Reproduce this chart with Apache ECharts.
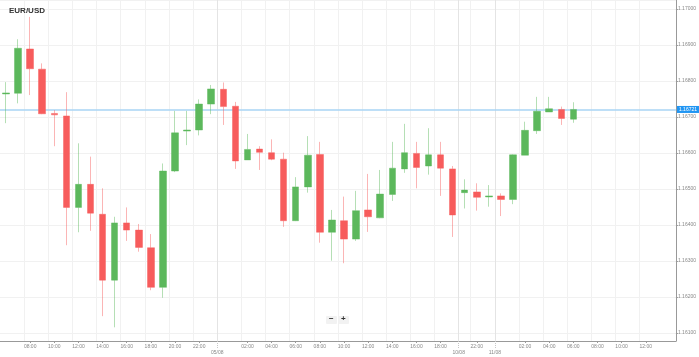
<!DOCTYPE html>
<html><head><meta charset="utf-8">
<script src="https://cdn.jsdelivr.net/npm/echarts@6/dist/echarts.min.js"></script>
<style>html,body{margin:0;padding:0;background:#fff}#c{width:699px;height:357px}</style>
</head><body><div id="c"></div>
<script>
const chartTitle = 'EUR/USD';
const times = [
  '06:00','07:00','08:00','09:00','10:00','11:00','12:00','13:00','14:00','15:00','16:00','17:00','18:00','19:00','20:00','21:00','22:00','23:00',
  '00:00','01:00','02:00','03:00','04:00','05:00','06:00','07:00','08:00','09:00','10:00','11:00','12:00','13:00','14:00','15:00','16:00','17:00','18:00','19:00',
  '21:00','22:00','23:00',
  '00:00','01:00','02:00','03:00','04:00','05:00','06:00','07:00','08:00','09:00','10:00','11:00','12:00','13:00','14:00'
];
const opens  = [1.16764,1.16766,1.16889,1.16833,1.16710,1.16703,1.16449,1.16513,1.16430,1.16247,1.16406,1.16386,1.16337,1.16227,1.16550,1.16661,1.16664,1.16736,1.16777,1.16730,1.16581,1.16611,1.16601,1.16583,1.16412,1.16506,1.16596,1.16380,1.16412,1.16361,1.16442,1.16420,1.16485,1.16556,1.16599,1.16564,1.16595,1.16556,1.16490,1.16492,1.16478,1.16481,1.16471,1.16594,1.16662,1.16714,1.16721,1.16694];
const closes = [1.16767,1.16891,1.16834,1.16709,1.16706,1.16449,1.16513,1.16433,1.16247,1.16406,1.16386,1.16338,1.16227,1.16550,1.16656,1.16664,1.16736,1.16778,1.16729,1.16578,1.16610,1.16602,1.16583,1.16412,1.16506,1.16594,1.16380,1.16414,1.16361,1.16440,1.16423,1.16486,1.16558,1.16601,1.16560,1.16595,1.16558,1.16428,1.16497,1.16477,1.16481,1.16471,1.16595,1.16663,1.16716,1.16723,1.16696,1.16721];
const lows   = [1.16683,1.16738,1.16761,1.16708,1.16619,1.16344,1.16380,1.16384,1.16147,1.16116,1.16356,1.16326,1.16219,1.16198,1.16547,1.16622,1.16649,1.16708,1.16678,1.16556,1.16581,1.16553,1.16580,1.16395,1.16411,1.16490,1.16351,1.16301,1.16294,1.16356,1.16381,1.16419,1.16467,1.16545,1.16502,1.16540,1.16481,1.16367,1.16446,1.16440,1.16451,1.16425,1.16458,1.16594,1.16653,1.16714,1.16678,1.16684];
const highs  = [1.16797,1.16916,1.16978,1.16849,1.16719,1.16769,1.16627,1.16590,1.16502,1.16423,1.16449,1.16403,1.16375,1.16571,1.16717,1.16717,1.16749,1.16789,1.16796,1.16742,1.16653,1.16619,1.16638,1.16601,1.16533,1.16647,1.16631,1.16442,1.16479,1.16495,1.16542,1.16553,1.16631,1.16681,1.16631,1.16669,1.16631,1.16564,1.16527,1.16516,1.16511,1.16488,1.16596,1.16687,1.16756,1.16756,1.16729,1.16741];
const dayBreakIndex = [18, 38, 41];
const dayBreakLabel = ['05/08', '10/08', '11/08'];
const yMin = 1.16078, yMax = 1.17025;

const candles = opens.map((o, i) => [o, closes[i], lows[i], highs[i]]);
const lastPrice = closes[closes.length - 1];
const boundaries = [];
for (let i = 0; i <= times.length; i++) {
  const k = dayBreakIndex.indexOf(i);
  boundaries.push(k >= 0 ? dayBreakLabel[k] : 'b' + i);
}
const isBreak = (i) => dayBreakIndex.indexOf(i) >= 0;
const showHour = (i, v) => {
  const h = parseInt(v, 10);
  return h % 2 === 0 && h !== 0 && i > 0 && i < times.length - 1;
};
const FONT = 'Liberation Sans';
const chart = echarts.init(document.getElementById('c'), null, {renderer: 'canvas'});
chart.setOption({
  animation: false,
  backgroundColor: '#ffffff',
  textStyle: {fontFamily: FONT},
  title: {
    text: chartTitle, left: 9, top: 7, padding: 0,
    textStyle: {fontSize: 8, fontWeight: 'bold', color: '#333', fontFamily: FONT}
  },
  grid: {left: 0, right: 22, top: 0, bottom: 16, containLabel: false},
  xAxis: [{
    type: 'category', data: times, boundaryGap: true, position: 'bottom',
    axisLine: {onZero: false, lineStyle: {color: '#999', width: 1}},
    axisTick: {show: true, alignWithLabel: true, length: 2, interval: showHour, lineStyle: {color: '#999'}},
    axisLabel: {interval: showHour, fontSize: 5, color: '#888', margin: 3, fontFamily: FONT},
    splitLine: {show: true, interval: showHour, lineStyle: {color: '#f1f1f1', width: 1}}
  }, {
    type: 'category', data: boundaries, boundaryGap: false, position: 'bottom',
    axisLine: {show: false, onZero: false},
    axisTick: {show: true, length: 8, interval: (i) => isBreak(i), lineStyle: {color: '#c8c8c8', type: [1, 1]}},
    axisLabel: {interval: (i) => isBreak(i), fontSize: 5, color: '#888', margin: 9, fontFamily: FONT},
    splitLine: {show: true, interval: (i) => isBreak(i), lineStyle: {color: '#e4e4e4', width: 1}}
  }],
  yAxis: {
    type: 'value', position: 'right', scale: true, min: yMin, max: yMax, splitNumber: 9,
    axisLine: {show: true, onZero: false, lineStyle: {color: '#999', width: 1}},
    axisTick: {show: true, length: 2, lineStyle: {color: '#999'}},
    axisLabel: {fontSize: 5, color: '#888', margin: 2, showMinLabel: false, showMaxLabel: false,
      formatter: (v) => v.toFixed(5), fontFamily: FONT},
    splitLine: {show: true, lineStyle: {color: '#f1f1f1', width: 1}}
  },
  series: [{
    type: 'candlestick', xAxisIndex: 0, yAxisIndex: 0, data: candles, barWidth: 7,
    itemStyle: {
      color: '#5cb85c', color0: '#f75c5c',
      borderColor: 'rgba(92,184,92,0.45)', borderColor0: 'rgba(247,92,92,0.45)', borderWidth: 1
    },
    markLine: {
      silent: true, symbol: ['none', 'none'], animation: false, precision: 5, z: 1,
      data: [{yAxis: lastPrice}],
      lineStyle: {color: '#a9d5f5', width: 1.5, type: 'solid'},
      label: {position: 'end', distance: 1, formatter: () => lastPrice.toFixed(5),
        backgroundColor: '#2196f3', color: '#fff', fontSize: 5, padding: [1, 2, 1, 2], fontFamily: FONT}
    }
  }],
  graphic: [
    {type: 'rect', left: 326, top: 316, shape: {width: 11, height: 8, r: 1}, style: {fill: '#f2f2f2'}},
    {type: 'rect', left: 338, top: 316, shape: {width: 11, height: 8, r: 1}, style: {fill: '#f2f2f2'}},
    {type: 'text', left: 329, top: 315, style: {text: '−', fill: '#333', font: 'bold 8px ' + FONT}},
    {type: 'text', left: 341, top: 315, style: {text: '+', fill: '#333', font: 'bold 8px ' + FONT}}
  ]
});
</script></body></html>
